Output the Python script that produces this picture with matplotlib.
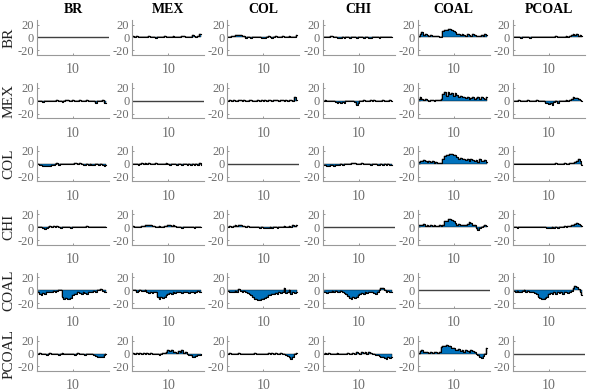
import matplotlib.pyplot as plt
import numpy as np

#---------------------------- names and data ----------------------------#
names = ["BR", "MEX", "COL", "CHI", "COAL", "PCOAL"]
tick_pos = [10]
tick_lab = ["10"]

# responses: key = (row, column)
resp = {}
resp[("BR", "MEX")] = [2, 1.5, 2, 1, 1.5, 1, 0.5, 1, 1.5, 2.5, 1, 0.5, 0, -0.5, 0.5, 1, 0.5, 1.5, 2.5, 0.5,
                       1, 0, 1.5, 2, 1, 0.5, 1, 0.5, 2, 3, 1, 0.5, 1, 1.5, 4, 2, 1, 3, 5, 6]
resp[("BR", "COL")] = [0, 1, 2, 3, 3.5, 4, 4, 3.5, 3, 2, -1, 1, 0, -1, 0, 0.5, 0, 0, 0.5, -1,
                       -1.5, -0.5, 1, 2, 0, -0.5, 1, 2.5, 1, 0, 0.5, 3, 1, 0, 0.5, 3, 1, 0, 0.5, 4.5]
resp[("BR", "CHI")] = [0, 0.5, 0, 1, 2, 2.5, 1, 0, -1, -0.5, -1.5, 0, -1, 0, 0.5, -0.5, 0, 1, 0, -0.5,
                       0, 0.5, 0, -1, 0, 0.5, -0.5, -1, 0, 0.5, 0, 0, -0.5, 0, 1, 0, 0, 0, 0.5, 0]
resp[("BR", "COAL")] = [3, 5, 8, 4, 6, 4, 3, 4, 3, 2, 3, 3, 1, 0, 10, 12, 11, 13, 13, 12,
                        10, 8, 5, 6, 4, 5, 4, 3, 5, 4, 3, 6, 4, 2, 3, 3, 4, 2, 5, 4]
resp[("BR", "PCOAL")] = [1, 0.5, 0, 0, -0.5, 0, 0.5, 0, 0, -0.5, 0, 1, 0, 0, 0, 0.5, 0, 1.5, 0, 0,
                         0.5, 0, 1, 0.5, 2, 1, 0, 1.5, 1, 0.5, 2, 1, 3, 4, 5, 4, 5, 3, 4, 2]

resp[("MEX", "BR")] = [-1, 0, -1, -2, -0.5, 0, -1, 0, -0.5, -1, 0, 0.5, -1, 0, -1.5, 0, 0.5, 1, 0, -0.5,
                       0.5, 0, -1, 0, 1, 0, -0.5, 0, 0.5, -1, 0, -1, 0, -4, 0, 0, -1, 1, -4, -3]
resp[("MEX", "COL")] = [0, 0.5, 0, 1, 0, -0.5, 0.5, 1, 0, 0.5, -0.5, 0, 1, 0.5, 0, 0, -0.5, 0.5, 0, 1,
                        0, 0.5, 0, 1, 0.5, 0, 1, 0.5, 1.5, 0, 1, 0.5, 0, 1, 0, 0.5, 1, 0, 5, 1]
resp[("MEX", "CHI")] = [0, 0.5, 0, -0.5, 0, -1, -1, -2, -3, -2.5, -3, -2, -3, -1, 0, -0.5, 0, -1, -2, -6,
                        -4, -1, 0, 0.5, 0, -0.5, 0, 1, 0, 0.5, 0, 0, -0.5, 0, 0.5, 0, 0, 0, 0.5, 0]
resp[("MEX", "COAL")] = [2, 5, 3, 1, 2, 1, 0, 1, 0.5, 0, 1, 0.5, 1, 2, 10, 13, 8, 14, 10, 12,
                         7, 12, 9, 5, 7, 5, 6, 4, 5, 3, 4, 6, 3, 4, 5, 3, 6, 4, 3, 5]
resp[("MEX", "PCOAL")] = [0, -0.5, 0, 0.5, 0, -0.5, 0, 0, 0.5, 0, -0.5, 0, 0, 0.5, 0, 0, -0.5, -1, -3, -4,
                          -5, -3, -6, -2, -1, -3, 0, -1, 0, 0, 0.5, 0, 1, 2, 5, 4, 4, 2, 1, 0]

resp[("COL", "BR")] = [-0.5, -1, -2, -2.5, -3, -3, -3.5, -3, -2, -1, 0, 1, -1, 0, -0.5, 0, 0.5, 0, -0.5, 0,
                       0.5, 1, 2, 0, 1, 0, -1, -2, 0, -1, 0, -1.5, -2, 0, -0.5, -1, 0, -1, -4, -1]
resp[("COL", "MEX")] = [0, 0.5, -0.5, -1, 0, 1, 0.5, 1, 0, 1, 0, -0.5, 0, 1, 0, 0.5, 0, -0.5, 0, 1,
                        0, -1, 0, 0.5, -0.5, -1, 0, 0.5, -1, 0, -0.5, -1, 0, -1.5, 0, -1, 0, -1, 1, -1.5]
resp[("COL", "CHI")] = [-1, -2, -2.5, -3, -2, -1.5, -4, -1, -2, -1, 0, -1, 0, 0.5, -0.5, 0, 1, 2, 1, 0.5,
                        0, 0.5, 1, 0, -0.5, 0, 0.5, -1, 0, -0.5, 0, -1, -2, 0, -1, 0, -1, -0.5, -2, -1]
resp[("COL", "COAL")] = [3, 5, 4, 6, 4, 3, 5, 3, 4, 2, 3, 1, 2, 1, 8, 12, 13, 14, 15, 15,
                         14, 13, 11, 8, 9, 7, 8, 6, 7, 5, 7, 6, 4, 6, 3, 7, 4, 5, 6, 3]
resp[("COL", "PCOAL")] = [0.5, 0, 0, -0.5, 0, 0, 0.5, 0, 0, -0.5, 0, 0, 0.5, 0, 0, 0, -0.5, 0, 0, 0.5,
                          0, 0, -0.5, 0, 1, 0, 0.5, 0, -0.5, 1, 0.5, 0, 1, 1.5, 2, 3, 5, 7, 4, -1]

resp[("CHI", "BR")] = [0, 0.5, 0, -1, -3, -1, 0, 1, 0.5, 2, 0, 1, 0, -1, 0, 0.5, -0.5, 0, 0, -1,
                       0, -0.5, 0, 0.5, 0, 0, -0.5, 0, 1, 0, 0.5, 0, 0, -0.5, 0, 0, 0.5, 0, 0, 0]
resp[("CHI", "MEX")] = [1, 0.5, 0, 0, 0.5, 1, 2, 3, 3, 2.5, 3, 2, 1, 0.5, 0, 1, 0.5, 0, 1, 2,
                        4, 3, 1, 4, 2, 0, -0.5, 0, -1, 0, 0.5, 0, -0.5, 0, 0.5, -1, 0, 0.5, 0, 0.5]
resp[("CHI", "COL")] = [0, 1, 0.5, 2, 3, 2, 4, 3, 1, 2, 0.5, 1, 0, 0.5, 0, 0, -0.5, 0, -1, -0.5,
                        -1.5, -1, -2, -1, -0.5, -1, 0, -0.5, -1, 0, 0.5, 0, 1, 0, 0.5, 1, 0, 3, 1, 3]
resp[("CHI", "COAL")] = [3, 4, 3, 5, 2, 3, 2, 3, 2, 4, 1, 2, 3, 2, 4, 10, 9, 12, 12, 11,
                         9, 7, 4, 5, 3, 4, 4, 3, 5, 8, 7, 4, 3, -2, -4, -2, 0, 2, 3, 2]
resp[("CHI", "PCOAL")] = [0, -0.5, -1, -0.5, 0, 0.5, 0, 0, -0.5, 0, 0, 0.5, 0, 0, -0.5, 0, 0, 0, 0.5, -1,
                          -1.5, -1, -0.5, -1, 0, -1, 0.5, 0, 0, 1, 0.5, 1, 2, 3, 4, 5, 6, 5, 4, 2]

resp[("COAL", "BR")] = [-3, -5, -8, -4, -6, -3, -2, -3, -2, -1, -2, -1, 0, 1, -10, -13, -12, -14, -13, -12,
                        -8, -5, -6, -3, -4, -5, -3, -4, -5, -2, -3, -2, -1, -3, 0, 1, 2, -1, -2, -3]
resp[("COAL", "MEX")] = [0, 1, -2, -1, 0, -1, -0.5, 0, -2, -4, -3, -4, -2, -3, -10, -13, -11, -12, -10, -8,
                         -5, -4, -5, -3, -4, -2, -3, -2, -4, -3, -2, -3, -4, -2, -3, -4, -2, -1, -3, -2]
resp[("COAL", "COL")] = [-1, -2, -3, -2, -1, -3, 2, -1, -2, -1, -3, -4, -5, -8, -11, -13, -14, -15, -15, -14,
                         -13, -12, -10, -8, -7, -6, -5, -4, -6, -3, -4, -2, 3, -4, -2, 0, -5, -3, -4, -2]
resp[("COAL", "CHI")] = [-2, -3, -4, -2, -3, -1, -2, -1, -2, -3, -1, -3, -4, -6, -9, -12, -13, -11, -12, -10,
                         -8, -5, -4, -5, -3, -4, -3, -2, -3, -4, -6, -2, 1, 4, 3, 0, -2, -1, -3, -2]
resp[("COAL", "PCOAL")] = [-1, -2, -1, -3, -2, -1, 0, -2, -1, -2, -3, -2, -4, -6, -10, -12, -13, -13, -12, -10,
                           -6, -4, -5, -3, -6, -2, -4, -3, -5, -2, -3, -4, -2, -1, 3, 6, 5, 2, -3, -8]

resp[("PCOAL", "BR")] = [0, 0.5, 0, -0.5, 0, -2, 0, 0.5, 0, -0.5, 0, 0, -3, 0, 0.5, 0, -0.5, 0, 0, 0,
                         -0.5, -3, 0, 0.5, -1, 0, -1, -2, -0.5, 0, 0, -1, -2, -4, -5, -6, -5, -6, -3, -1]
resp[("PCOAL", "MEX")] = [0.5, 0, 1, 0, 0.5, 0, 1, 0, 0.5, 0, 1.5, 0, -1, 0, 0, -2, 0, 0.5, 1, 3,
                          5, 4, 6, 2, 3, 1, 4, 2, 5, 1, 2, 0, -2, -3, -5, -6, -4, -2, -3, -1]
resp[("PCOAL", "COL")] = [0, 0.5, 0, -0.5, 0, 0, 0.5, 0, -0.5, 0, 0, 0, -0.5, 0, 0, 0.5, 0, 0, 0, -1,
                          -0.5, -1, 0, 0.5, -0.5, 1, 0, 0.5, -1, 0, 1, 0, -1, -2, -4, -6, -8, -5, -1, 0.5]
resp[("PCOAL", "CHI")] = [0, 0.5, 0, 1, 0, -0.5, 0, 0, 0.5, 0, 0, -0.5, 0, 0, 0.5, 0, 0, 1, 0, 2,
                          1, 0, 3, 1, 2, 0, 2, 1, 0, -1, -2, -3, -4, -5, -6, -7, -8, -6, -7, -5]
resp[("PCOAL", "COAL")] = [1, 4, 6, 3, 2, 3, 1, 2, 1, 2, 3, 1, 2, 10, 12, 12, 13, 12, 11, 9,
                           8, 6, 5, 7, 4, 5, 3, 6, 4, 2, 5, 4, 3, 0, -3, -5, -7, -4, 0, 8]

n_pts = 40
x = np.arange(0, n_pts) / 2.0

#-------------------------------- plot ---------------------------------#
plt.rcParams.update({
    "font.family": "serif",
    "font.serif": ["Liberation Serif", "DejaVu Serif"],
})

fig, axs = plt.subplots(6, 6, figsize=(5.89, 3.92), dpi=100)
plt.subplots_adjust(left=37/589, right=585/589, top=1-20/392, bottom=1-371/392,
                    wspace=0.322, hspace=0.806)

blue = "#0072BD"
gray = "#6e6e6e"

for i, rn in enumerate(names):
    for j, cn in enumerate(names):
        ax = axs[i, j]
        if i == j:
            ax.plot([0, 20.5], [0, 0], color="#404040", lw=1.0)
        else:
            y = np.array(resp[(rn, cn)], dtype=float)
            ax.fill_between(x, y, 0, step="mid", color=blue, edgecolor="black", lw=0.3)
            ax.plot(x, y, color="black", lw=0.8, drawstyle="steps-mid")
        ax.set_xlim(-0.3, 20.3)
        ax.set_ylim(-27, 27)
        ax.set_yticks([-20, 0, 20])
        ax.set_yticklabels(["-20", "0", "20"])
        ax.set_xticks(tick_pos)
        ax.set_xticklabels(tick_lab)
        ax.tick_params(axis="both", direction="in", length=1.5, width=0.5,
                       colors=gray, labelsize=9)
        ax.tick_params(axis="x", pad=6, labelsize=10)
        ax.tick_params(axis="y", pad=2)
        for side in ["top", "right"]:
            ax.spines[side].set_visible(False)
        for side in ["left", "bottom"]:
            ax.spines[side].set_color("#999999")
            ax.spines[side].set_linewidth(0.8)
        if i == 0:
            ax.set_title(cn, fontsize=10, fontweight="bold", pad=5, color="black")
    pos = axs[i, 0].get_position()
    fig.text(9/589, (pos.y0 + pos.y1) / 2, rn, rotation=90, ha="center", va="center",
             fontsize=11, color="#222222")

plt.savefig("out.png", dpi=100)
